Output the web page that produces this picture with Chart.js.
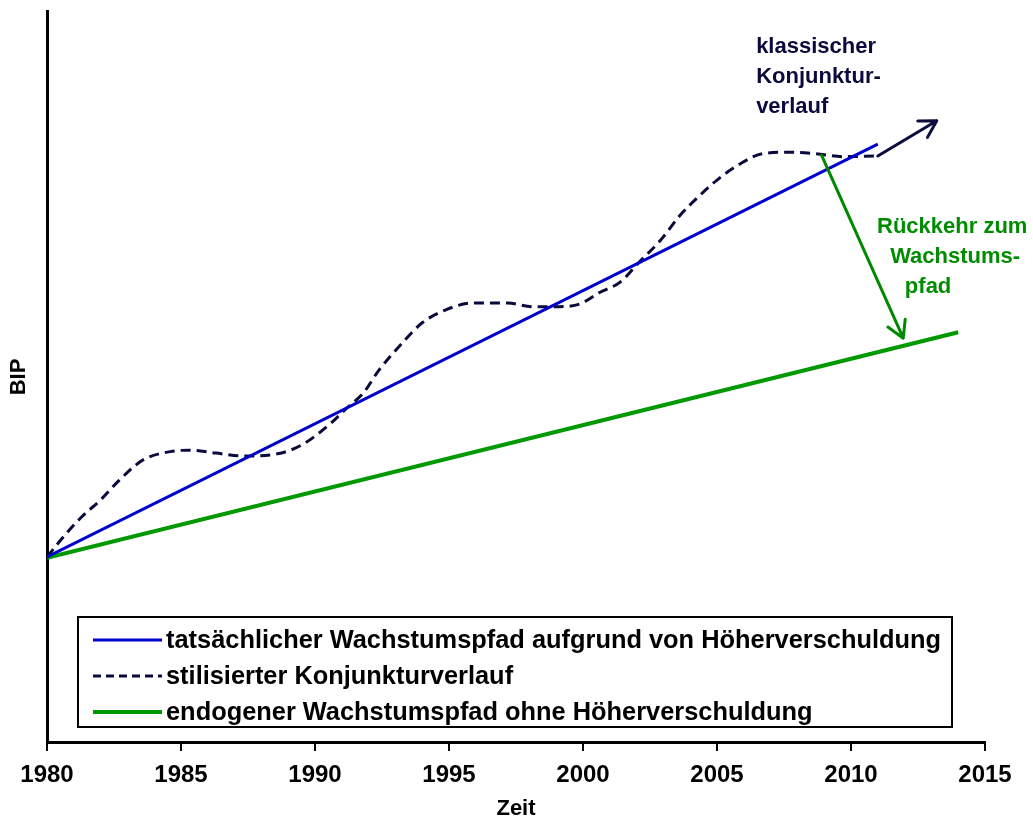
<!DOCTYPE html>
<html>
<head>
<meta charset="utf-8">
<script src="https://cdn.jsdelivr.net/npm/chart.js@4"></script>
<style>
  body { margin: 0; background: #fff; }
  #wrap { width: 1033px; height: 816px; }
</style>
</head>
<body>
<div id="wrap"><canvas id="myChart"></canvas></div>
<script>
const FONT = "'Liberation Sans', Arial, sans-serif";

// stylized business cycle (dashed)
const cycleYears = [1980.0, 1980.6, 1981.3, 1982.0, 1982.7, 1983.6, 1984.6, 1985.3, 1986.3, 1987.3,
    1988.6, 1989.5, 1990.6, 1991.2, 1991.8, 1992.4, 1993.3, 1994.0, 1994.9, 1995.9,
    1997.2, 1998.1, 1999.1, 1999.9, 2000.6, 2001.4, 2002.1, 2002.9, 2003.6, 2004.3,
    2005.0, 2005.9, 2006.7, 2007.7, 2008.7, 2009.7, 2011.0];
const cycleValues = [25.4, 28.1, 30.9, 33.2, 35.9, 38.7, 39.8, 40.0, 39.6, 39.2,
    39.5, 40.7, 43.7, 45.8, 47.8, 51.0, 54.8, 57.4, 59.2, 60.1,
    60.1, 59.6, 59.6, 60.0, 61.5, 63.0, 65.7, 68.7, 72.0, 74.6,
    76.9, 79.2, 80.5, 80.7, 80.5, 80.1, 80.2];

// actual growth path with higher debt (blue)
const actualYears = [1980, 2011];
const actualValues = [25.4, 81.8];

// endogenous growth path without higher debt (green)
const endoYears = [1980, 2014];
const endoValues = [25.3, 56.1];

const xTicks = [1980, 1985, 1990, 1995, 2000, 2005, 2010, 2015];

const labels = [
    'tatsächlicher Wachstumspfad aufgrund von Höherverschuldung',
    'stilisierter Konjunkturverlauf',
    'endogener Wachstumspfad ohne Höherverschuldung'
];

// annotations (data coordinates)
const cycleArrow = [[2011.0, 80.2], [2013.2, 85.0]];
const returnArrow = [[2008.9, 80.3], [2011.95, 55.3]];
const cycleText = ['klassischer', 'Konjunktur-', 'verlauf'];
const cycleTextPos = [[2006.46, 94.3], [2006.46, 90.2], [2006.46, 86.1]];
const returnText = ['Rückkehr zum', 'Wachstums-', 'pfad'];
const returnTextPos = [[2010.97, 69.7], [2011.46, 65.6], [2012.01, 61.5]];

const BLUE = '#0000cc';
const NAVY = '#0a0a3c';
const GREEN = '#009900';
const GREEN_TEXT = '#008c00';

const toXY = (xs, ys) => xs.map((x, i) => ({ x: x, y: ys[i] }));

function arrow(ctx, x1, y1, x2, y2, color) {
    const ang = Math.atan2(y2 - y1, x2 - x1);
    const len = 19;
    ctx.save();
    ctx.strokeStyle = color;
    ctx.lineWidth = 3;
    ctx.lineCap = 'round';
    ctx.lineJoin = 'round';
    ctx.beginPath();
    ctx.moveTo(x1, y1);
    ctx.lineTo(x2, y2);
    ctx.moveTo(x2 - len * Math.cos(ang - Math.PI / 6), y2 - len * Math.sin(ang - Math.PI / 6));
    ctx.lineTo(x2, y2);
    ctx.lineTo(x2 - len * Math.cos(ang + Math.PI / 6), y2 - len * Math.sin(ang + Math.PI / 6));
    ctx.stroke();
    ctx.restore();
}

const extras = {
    id: 'extras',
    afterDatasetsDraw(chart) {
        const { ctx, scales: { x, y } } = chart;
        const px = p => [x.getPixelForValue(p[0]), y.getPixelForValue(p[1])];

        const a = px(cycleArrow[0]), b = px(cycleArrow[1]);
        arrow(ctx, a[0], a[1], b[0], b[1], NAVY);
        const c = px(returnArrow[0]), d = px(returnArrow[1]);
        arrow(ctx, c[0], c[1], d[0], d[1], '#008800');

        ctx.save();
        ctx.font = 'bold 22px ' + FONT;
        ctx.textBaseline = 'alphabetic';
        ctx.textAlign = 'left';
        ctx.fillStyle = NAVY;
        cycleText.forEach((t, i) => {
            const p = px(cycleTextPos[i]);
            ctx.fillText(t, p[0], p[1]);
        });
        ctx.fillStyle = GREEN_TEXT;
        returnText.forEach((t, i) => {
            const p = px(returnTextPos[i]);
            ctx.fillText(t, p[0], p[1]);
        });

        // boxed legend
        ctx.strokeStyle = '#000';
        ctx.lineWidth = 2;
        ctx.fillStyle = '#fff';
        ctx.fillRect(78, 617, 874, 110);
        ctx.strokeRect(78, 617, 874, 110);
        const rows = [640, 676, 712];
        const styles = [
            { color: BLUE, width: 3, dash: [] },
            { color: NAVY, width: 3, dash: [8, 5] },
            { color: GREEN, width: 4, dash: [] }
        ];
        ctx.font = 'bold 25.4px ' + FONT;
        ctx.textBaseline = 'middle';
        labels.forEach((t, i) => {
            const s = styles[i];
            ctx.beginPath();
            ctx.setLineDash(s.dash);
            ctx.strokeStyle = s.color;
            ctx.lineWidth = s.width;
            ctx.moveTo(93, rows[i]);
            ctx.lineTo(162, rows[i]);
            ctx.stroke();
            ctx.setLineDash([]);
            ctx.fillStyle = '#000';
            ctx.fillText(t, 166, rows[i] + 1);
        });
        ctx.restore();
    }
};

new Chart(document.getElementById('myChart'), {
    type: 'scatter',
    data: {
        datasets: [
            {
                label: labels[0],
                data: toXY(actualYears, actualValues),
                showLine: true,
                borderColor: BLUE,
                borderWidth: 3,
                pointRadius: 0
            },
            {
                label: labels[1],
                data: toXY(cycleYears, cycleValues),
                showLine: true,
                borderColor: NAVY,
                borderWidth: 3,
                borderDash: [10, 6],
                cubicInterpolationMode: 'monotone',
                pointRadius: 0
            },
            {
                label: labels[2],
                data: toXY(endoYears, endoValues),
                showLine: true,
                borderColor: GREEN,
                borderWidth: 4,
                pointRadius: 0
            }
        ]
    },
    options: {
        responsive: true,
        maintainAspectRatio: false,
        animation: false,
        layout: { padding: { top: 11, right: 48, bottom: 0, left: 2 } },
        plugins: {
            legend: { display: false },
            tooltip: { enabled: false }
        },
        scales: {
            x: {
                type: 'linear',
                min: 1980,
                max: 2015,
                afterBuildTicks: axis => { axis.ticks = xTicks.map(v => ({ value: v })); },
                ticks: {
                    color: '#000',
                    padding: 12.5,
                    font: { family: FONT, size: 24, weight: 'bold', lineHeight: 1 },
                    maxRotation: 0,
                    callback: v => String(v)
                },
                grid: {
                    display: true,
                    drawOnChartArea: false,
                    color: '#000',
                    lineWidth: 2,
                    tickLength: 8
                },
                border: { display: true, color: '#000', width: 3 },
                title: {
                    display: true,
                    text: 'Zeit',
                    color: '#000',
                    font: { family: FONT, size: 22, weight: 'bold', lineHeight: 0.64 },
                    padding: { top: 2, bottom: 0 }
                }
            },
            y: {
                min: 0,
                max: 100,
                ticks: { display: false },
                grid: { display: false, drawTicks: false },
                border: { display: true, color: '#000', width: 3 },
                title: {
                    display: true,
                    text: 'BIP',
                    color: '#000',
                    font: { family: FONT, size: 22, weight: 'bold', lineHeight: 1 },
                    padding: { top: 5.5, bottom: 17.5 }
                }
            }
        }
    },
    plugins: [extras]
});
</script>
</body>
</html>
